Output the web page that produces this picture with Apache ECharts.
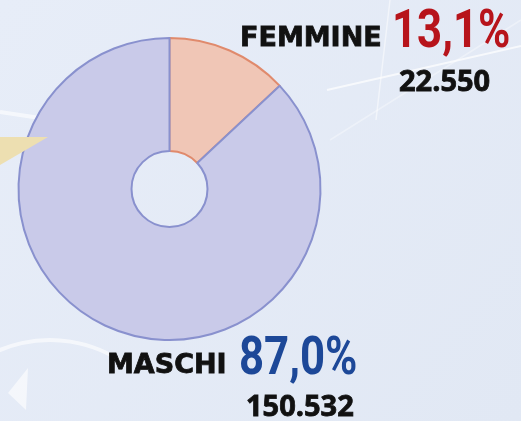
<!DOCTYPE html>
<html>
<head>
<meta charset="utf-8">
<script src="https://cdn.jsdelivr.net/npm/echarts@6/dist/echarts.min.js"></script>
<style>
html, body { margin: 0; padding: 0; }
#myChart { width: 521px; height: 421px; }
</style>
</head>
<body>
<div id="myChart"></div>
<script>
// dati
var categories = ['FEMMINE', 'MASCHI'];
var values = [22550, 150532];
var percentLabels = ['13,1%', '87,0%'];
var valueLabels = ['22.550', '150.532'];

// stile
var fillColors = ['#F0C6B6', '#C9CAE9'];
var borderColors = ['#E08A6C', '#8991CE'];
var pctColors = ['#B7141B', '#1D4898'];
var labelPos = [
  { name: [240, 39], pct: [392, 33], val: [399, 83] },
  { name: [107, 366], pct: [239, 360], val: [246, 408] }
];

var pieData = categories.map(function (c, i) {
  return {
    name: c,
    value: values[i],
    itemStyle: { color: fillColors[i], borderColor: borderColors[i], borderWidth: 2 }
  };
});

var graphics = [
  // sfondo decorativo
  { type: 'line', shape: { x1: 0, y1: 112, x2: 40, y2: 118 }, style: { stroke: 'rgba(255,255,255,0.6)', lineWidth: 4 }, z: 0 },
  { type: 'line', shape: { x1: 327, y1: 90, x2: 521, y2: 46 }, style: { stroke: 'rgba(255,255,255,0.7)', lineWidth: 2 }, z: 0 },
  { type: 'line', shape: { x1: 390, y1: 0, x2: 376, y2: 120 }, style: { stroke: 'rgba(255,255,255,0.5)', lineWidth: 1.5 }, z: 0 },
  { type: 'line', shape: { x1: 330, y1: 140, x2: 521, y2: 20 }, style: { stroke: 'rgba(255,255,255,0.35)', lineWidth: 1.5 }, z: 0 },
  { type: 'arc', shape: { cx: 50, cy: 470, r: 130, startAngle: -Math.PI * 0.95, endAngle: -Math.PI * 0.3 }, style: { stroke: 'rgba(255,255,255,0.6)', lineWidth: 4, fill: null }, z: 0 },
  { type: 'polygon', shape: { points: [[28, 368], [8, 393], [26, 410]] }, style: { fill: 'rgba(255,255,255,0.6)' }, z: 0 },
  // triangolo giallo
  { type: 'polygon', shape: { points: [[0, 137], [48, 137], [0, 165]] }, style: { fill: '#EDDFB1' }, z: 100 }
];

categories.forEach(function (c, i) {
  var p = labelPos[i];
  graphics.push({
    type: 'text', x: p.name[0], y: p.name[1], z: 100,
    style: { text: c, fill: '#111', stroke: '#111', lineWidth: 0.8, font: 'bold 27px "DejaVu Sans"', verticalAlign: 'middle' }
  });
  graphics.push({
    type: 'text', x: p.pct[0], y: p.pct[1], z: 100, scaleX: 0.81,
    style: { text: percentLabels[i], fill: pctColors[i], font: 'bold 54px Roboto', verticalAlign: 'middle' }
  });
  graphics.push({
    type: 'text', x: p.val[0], y: p.val[1], z: 100,
    style: { text: valueLabels[i], fill: '#111', stroke: '#111', lineWidth: 0.8, font: 'bold 29px "Open Sans"', verticalAlign: 'middle' }
  });
});

var option = {
  backgroundColor: {
    type: 'linear', x: 0, y: 0, x2: 1, y2: 1,
    colorStops: [{ offset: 0, color: '#E7EDF8' }, { offset: 1, color: '#E1E8F4' }]
  },
  animation: false,
  series: [{
    type: 'pie',
    center: [169.5, 189],
    radius: [38, 151],
    startAngle: 90,
    clockwise: true,
    silent: true,
    label: { show: false },
    labelLine: { show: false },
    data: pieData
  }],
  graphic: graphics
};

var myChart = echarts.init(document.getElementById('myChart'));
myChart.setOption(option);
</script>
</body>
</html>
